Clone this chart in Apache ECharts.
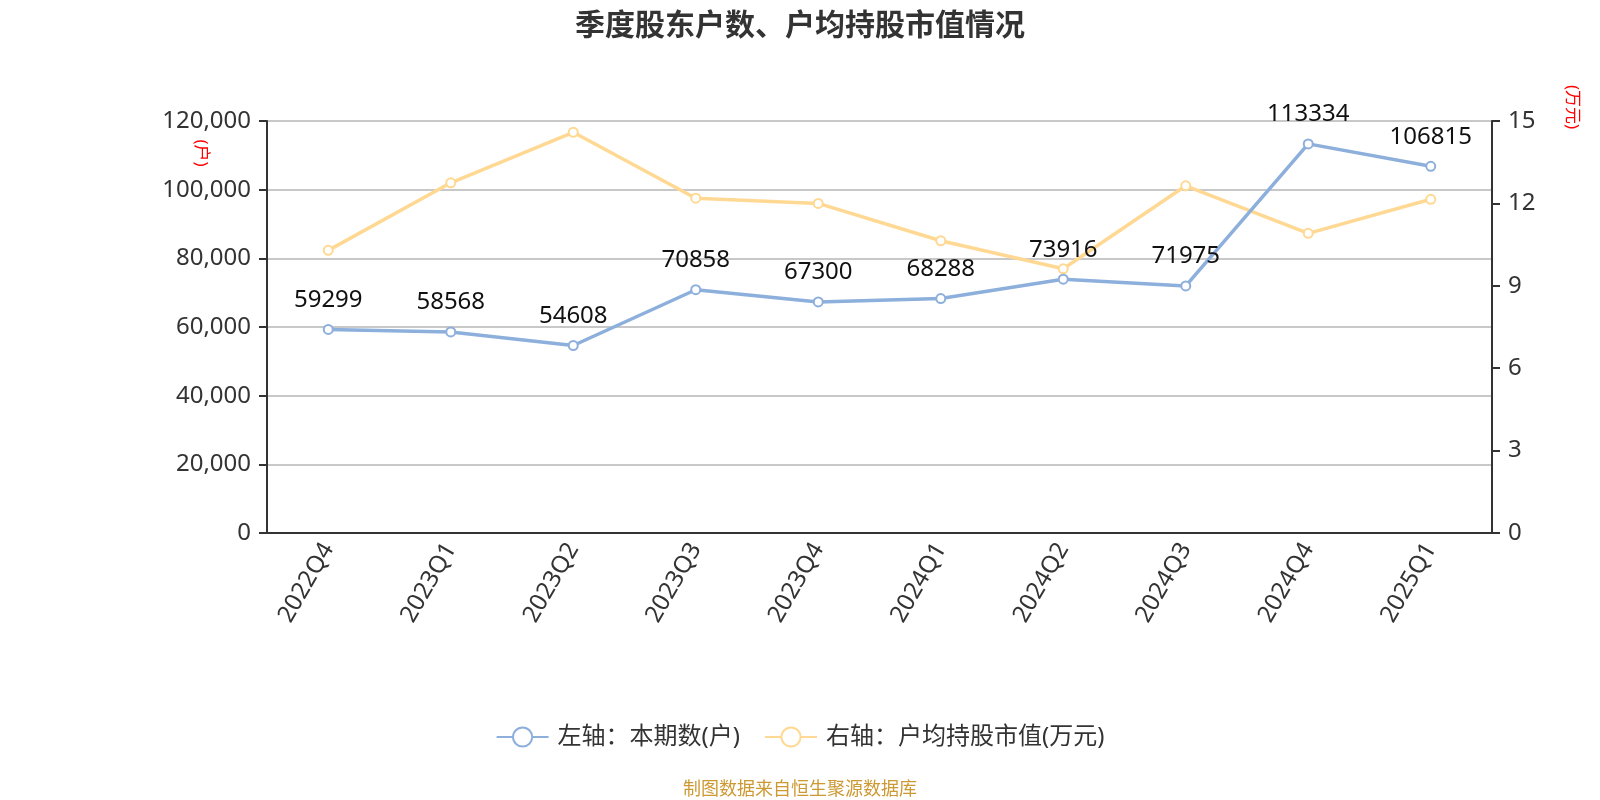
<!DOCTYPE html>
<html>
<head>
<meta charset="utf-8">
<script src="https://cdn.jsdelivr.net/npm/echarts@6/dist/echarts.min.js"></script>
<style>
    html, body { margin: 0; padding: 0; background: #fff; }
    #chart { width: 1600px; height: 800px; }
</style>
</head>
<body>
<div id="chart"></div>
<script>
const quarters = ['2022Q4', '2023Q1', '2023Q2', '2023Q3', '2023Q4', '2024Q1', '2024Q2', '2024Q3', '2024Q4', '2025Q1']
const holders = [59299, 58568, 54608, 70858, 67300, 68288, 73916, 71975, 113334, 106815]
const avgValue = [10.29, 12.75, 14.59, 12.19, 12.0, 10.64, 9.62, 12.64, 10.91, 12.15]
const leftTicks = { min: 0, max: 120000, interval: 20000 }
const rightTicks = { min: 0, max: 15, interval: 3 }

const blue = '#8DAFDC'
const yellow = '#FFD993'
const fontFamily = '"Noto Sans", "Noto Sans CJK SC", sans-serif'

const chart = echarts.init(document.getElementById('chart'))
const option = {
    textStyle: { fontFamily: fontFamily },
    title: {
        text: '季度股东户数、户均持股市值情况',
        left: 'center',
        top: 4,
        textStyle: { fontSize: 30, fontWeight: 'bold', color: '#333', fontFamily: '"Noto Sans CJK SC", sans-serif' }
    },
    legend: {
        bottom: 46,
        left: 'center',
        itemWidth: 52,
        itemHeight: 24,
        itemGap: 24,
        textStyle: { fontSize: 24, color: '#333', padding: [0, 0, 0, 4] },
        data: ['左轴：本期数(户)', '右轴：户均持股市值(万元)']
    },
    graphic: [{
        type: 'text',
        left: 'center',
        bottom: 1,
        style: {
            text: '制图数据来自恒生聚源数据库',
            fill: '#CC9933',
            fontSize: 18,
            fontFamily: fontFamily
        }
    }, {
        type: 'text',
        x: 201,
        y: 153,
        rotation: -Math.PI / 2,
        style: {
            text: '(户)',
            fill: 'red',
            fontSize: 17,
            align: 'center',
            verticalAlign: 'middle',
            fontFamily: fontFamily
        }
    }, {
        type: 'text',
        x: 1572,
        y: 107,
        rotation: -Math.PI / 2,
        style: {
            text: '(万元)',
            fill: 'red',
            fontSize: 17,
            align: 'center',
            verticalAlign: 'middle',
            fontFamily: fontFamily
        }
    }],
    grid: {
        left: 267,
        right: 108,
        top: 121,
        bottom: 267
    },
    xAxis: {
        type: 'category',
        data: quarters,
        axisLine: { lineStyle: { color: '#333', width: 2 } },
        axisTick: { lineStyle: { color: '#333', width: 2 }, length: 8 },
        axisLabel: { rotate: 60, fontSize: 24, color: '#333', margin: 12 }
    },
    yAxis: [{
        type: 'value',
        min: leftTicks.min,
        max: leftTicks.max,
        interval: leftTicks.interval,
        axisLine: { show: true, lineStyle: { color: '#333', width: 2 } },
        axisTick: { show: true, lineStyle: { color: '#333', width: 2 }, length: 8 },
        axisLabel: {
            fontSize: 24,
            color: '#333',
            margin: 16,
            formatter: v => v.toLocaleString('en-US')
        },
        splitLine: { lineStyle: { color: '#c8c8c8', width: 2 } }
    }, {
        type: 'value',
        min: rightTicks.min,
        max: rightTicks.max,
        interval: rightTicks.interval,
        axisLine: { show: true, lineStyle: { color: '#333', width: 2 } },
        axisTick: { show: true, lineStyle: { color: '#333', width: 2 }, length: 8 },
        axisLabel: { fontSize: 24, color: '#333', margin: 16 },
        splitLine: { show: false }
    }],
    series: [{
        name: '左轴：本期数(户)',
        type: 'line',
        yAxisIndex: 0,
        data: holders,
        symbol: 'emptyCircle',
        symbolSize: 9,
        color: blue,
        lineStyle: { color: blue, width: 3.5 },
        itemStyle: { color: blue, borderWidth: 2 },
        label: { show: true, position: 'top', distance: 12, fontSize: 24, color: '#111' },
        z: 3
    }, {
        name: '右轴：户均持股市值(万元)',
        type: 'line',
        yAxisIndex: 1,
        data: avgValue,
        symbol: 'emptyCircle',
        symbolSize: 9,
        color: yellow,
        lineStyle: { color: yellow, width: 3.5 },
        itemStyle: { color: yellow, borderWidth: 2 },
        z: 2
    }]
}
chart.setOption(option)
</script>
</body>
</html>
